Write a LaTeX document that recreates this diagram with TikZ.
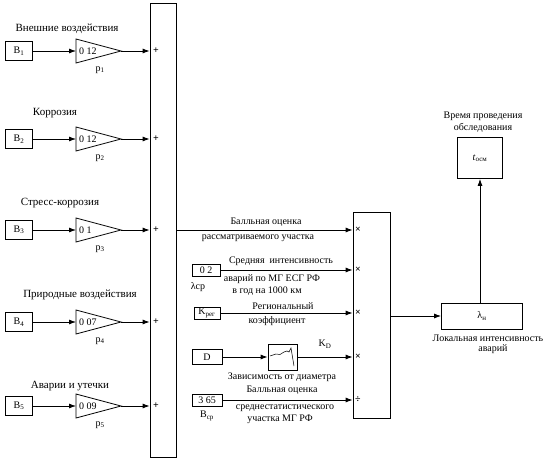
\documentclass[tikz,border=0pt]{standalone}
\usepackage{fontspec}
\setmainfont{Liberation Serif}
\usetikzlibrary{arrows.meta}
\usetikzlibrary{positioning}

\tikzset{
  blk/.style={draw, line width=0.8pt, inner sep=1pt, font=\fontsize{10}{11}\selectfont},
  bar/.style={draw, line width=0.8pt},
  sig/.style={line width=0.8pt, -{Latex[length=7pt,width=5pt]}},
  ttl/.style={font=\fontsize{11}{12}\selectfont},
  lbl/.style={font=\fontsize{10}{11}\selectfont, inner sep=0pt},
  sgn/.style={font=\fontsize{10}{10}\selectfont\bfseries, inner sep=0pt}
}

\begin{document}
\begin{tikzpicture}[x=1pt,y=-1pt]
			\useasboundingbox (0,0) rectangle (560,463);
			% summing bar
			\node[bar, minimum width=26pt, minimum height=454pt] (sumbar) at (163,230) {};
			% five factors with weights
			\foreach \i/\y/\ty/\tx/\name/\gain in {1/51/29/67/Внешние воздействия/0 12,
			    2/139/113/55/Коррозия/0 12, 3/230/203/60/Стресс-коррозия/0 1,
			    4/322/295/80/Природные воздействия/0 07, 5/406/386/70/Аварии и утечки/0 09}{
				\node[ttl] (t\i) at (\tx,\ty) {\name};
				\node[blk, minimum width=27pt, minimum height=19pt] (b\i) at (19,\y) {B\textsubscript{\i}};
				\draw[line width=0.8pt] (76,\y-12) -- (121,\y) -- (76,\y+12) -- cycle;
				\coordinate (gi\i) at (76,\y);
				\coordinate (go\i) at (121,\y);
				\node[lbl, anchor=west] (k\i) at (79,\y) {\gain};
				\node[lbl] (p\i) at (100,\y+19) {p\textsubscript{\i}};
				\draw[sig] (b\i) -- (gi\i);
				\draw[sig] (go\i) -- (sumbar.west |- go\i);
				\node[sgn, anchor=west] (s\i) at (153,\y) {+};
			}
			% multiplying bar
			\node[bar, minimum width=37pt, minimum height=206pt] (multbar) at (371.5,315) {};
			% score of the section
			\draw[sig] (sumbar.east |- 0,230) -- (multbar.west |- 0,230);
			\node[lbl] (r1a) at (266,222) {Балльная оценка};
			\node[lbl] (r1b) at (258,238) {рассматриваемого участка};
			% mean intensity
			\node[blk, minimum width=28pt, minimum height=12pt] (lcp) at (206,270) {0 2};
			\node[lbl] (lcpn) at (198,287) {λср};
			\draw[sig] (lcp) -- (multbar.west |- lcp);
			\node[lbl] (r2a) at (281,261) {Средняя \ интенсивность};
			\node[lbl] (r2b) at (272,279) {аварий по МГ ЕСГ РФ};
			\node[lbl] (r2c) at (267,291) {в год на 1000 км};
			% regional factor
			\node[blk, minimum width=26pt, minimum height=12pt] (kreg) at (207,313) {K\textsubscript{рег}};
			\draw[sig] (kreg) -- (multbar.west |- kreg);
			\node[lbl] (r3a) at (283,306) {Региональный};
			\node[lbl] (r3b) at (277,321) {коэффициент};
			% diameter
			\node[blk, minimum width=30pt, minimum height=15pt] (diam) at (207,357) {D};
			\node[blk, minimum width=29pt, minimum height=26pt] (tab) at (282.5,357) {};
			\draw[line width=0.5pt] (270,356) -- (276,354) -- (280,354.5) -- (284,352) -- (287,351)
			    -- (289,352) -- (291,348) -- (294,366);
			\draw[sig] (diam) -- (tab);
			\draw[sig] (tab) -- (multbar.west |- tab);
			\node[lbl] (kd) at (325,344) {K\textsubscript{D}};
			\node[lbl] (r4a) at (282,377) {Зависимость от диаметра};
			% mean score
			\node[blk, minimum width=30pt, minimum height=12pt] (bcp) at (207,400) {3 65};
			\node[lbl] (bcpn) at (207,416) {B\textsubscript{ср}};
			\draw[sig] (bcp) -- (multbar.west |- bcp);
			\node[lbl] (r5a) at (282,390) {Балльная оценка};
			\node[lbl] (r5b) at (285,408) {среднестатистического};
			\node[lbl] (r5c) at (280,419) {участка МГ РФ};
			% signs of the inputs
			\foreach \j/\y in {1/230,2/270,3/313,4/357}{
				\node[sgn, anchor=west] (x\j) at (355,\y) {×};
			}
			\node[sgn, anchor=west] (x5) at (355,400) {÷};
			% local intensity and inspection time
			\node[blk, minimum width=81pt, minimum height=26pt] (lam) at (482,316) {λ\textsubscript{н}};
			\draw[sig] (multbar.east |- lam) -- (lam);
			\node[lbl] (lama) at (488,338) {Локальная интенсивность};
			\node[lbl] (lamb) at (493,349) {аварий};
			\node[blk, minimum width=45pt, minimum height=41pt] (tosm) at (480,158) {\textit{t}\textsubscript{осм}};
			\draw[sig] (lam.north -| tosm) -- (tosm);
			\node[lbl] (ta) at (483,116) {Время проведения};
			\node[lbl] (tb) at (483,128) {обследования};
\end{tikzpicture}
\end{document}
